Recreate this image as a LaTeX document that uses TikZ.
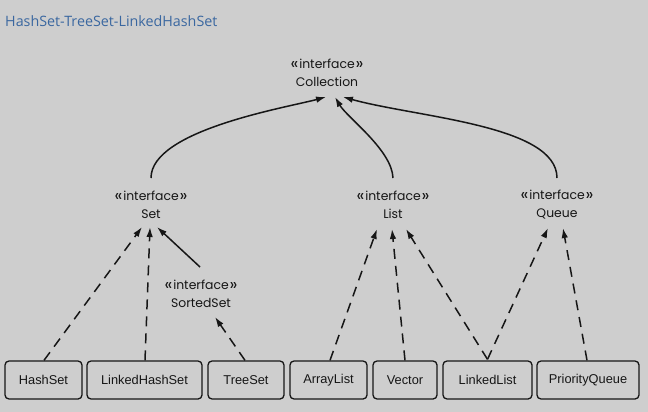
\documentclass[tikz,border=0pt]{standalone}
\usepackage{fontspec}
\setmainfont{Liberation Sans}
\newfontfamily\ifont{Poppins}
\newfontfamily\tfont{Open Sans}
\usetikzlibrary{arrows.meta,calc}
\definecolor{bg}{RGB}{206,206,206}
\definecolor{ink}{RGB}{22,22,22}
\definecolor{titleblue}{RGB}{58,103,160}
\newcommand{\ster}{{\fontsize{17}{18}\selectfont\raisebox{-1pt}{«}}\kern0.8pt interface\kern0.8pt{\fontsize{17}{18}\selectfont\raisebox{-1pt}{»}}}
\begin{document}
\begin{tikzpicture}[x=1pt,y=-1pt,
 iface/.style={align=center, font=\ifont\fontsize{12.4}{18}\selectfont, inner sep=0, text=ink},
 cls/.style={draw=ink, line width=1.3pt, rounded corners=4pt, minimum height=38pt, inner sep=0, font=\fontsize{12.8}{15}\selectfont, text=ink},
 inh/.style={line width=1.5pt, draw=ink, -{Latex[length=10pt,width=6.5pt]}},
 impl/.style={inh, dash pattern=on 10pt off 7pt}]
\fill[bg] (0,0) rectangle (648,412);
\useasboundingbox (0,0) rectangle (648,412);
\node[anchor=west, text=titleblue, font=\tfont\fontsize{14.3}{16}\selectfont, inner sep=0] (title) at (5,21) {HashSet-TreeSet-LinkedHashSet};

\node[iface] (coll) at (327,72.5) {\ster\\Collection};
\node[iface] (set) at (151,205) {\ster\\Set};
\node[iface] (list) at (393,205) {\ster\\List};
\node[iface] (queue) at (557,205) {\ster\\Queue};
\node[iface] (sorted) at (201,294) {\ster\\SortedSet};

\node[cls, minimum width=77pt] (hs) at (43.5,380) {HashSet};
\node[cls, minimum width=115pt] (lhs) at (144.5,380) {LinkedHashSet};
\node[cls, minimum width=76pt] (ts) at (246,380) {TreeSet};
\node[cls, minimum width=77pt] (al) at (328.5,380) {ArrayList};
\node[cls, minimum width=64pt] (vec) at (405,380) {Vector};
\node[cls, minimum width=89pt] (ll) at (487.5,380) {LinkedList};
\node[cls, minimum width=102pt] (pq) at (588,380) {PriorityQueue};

% to Collection
\draw[inh] ($(set)+(0,-27)$) .. controls ($(set)+(0,-75)$) and ($(coll)+(-40,35)$) .. ($(coll)+(-1,24.5)$);
\draw[inh] ($(list)+(0,-27)$) .. controls ($(list)+(-1,-55)$) and ($(coll)+(20,45)$) .. ($(coll)+(8,24.5)$);
\draw[inh] ($(queue)+(0,-27)$) .. controls ($(queue)+(0,-80)$) and ($(coll)+(90,45)$) .. ($(coll)+(16,24.5)$);

% to Set
\draw[impl] ($(hs.north)+(0.5,0)$) -- ($(set)+(-9,22)$);
\draw[impl] ($(lhs.north)+(0.5,0)$) -- ($(set)+(-1,22)$);
\draw[inh] ($(sorted)+(-1,-27)$) -- ($(set)+(6,22)$);
\draw[impl] ($(ts.north)+(-1,0)$) -- ($(sorted)+(14,23)$);

% to List
\draw[impl] ($(al.north)+(1.5,0)$) -- ($(list)+(-16,24)$);
\draw[impl] ($(vec.north)+(0,0)$) -- ($(list)+(-1,24)$);
\draw[impl] ($(ll.north)+(0,-1)$) -- ($(list)+(13,24)$);

% to Queue
\draw[impl] ($(ll.north)+(0,-1)$) -- ($(queue)+(-9,23)$);
\draw[impl] ($(pq.north)+(-1,0)$) -- ($(queue)+(6,23)$);
\end{tikzpicture}
\end{document}
